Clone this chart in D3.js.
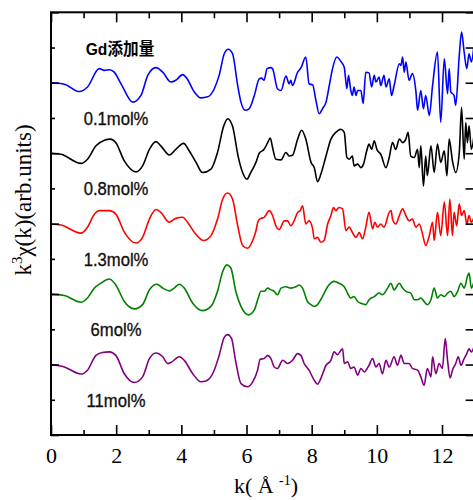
<!DOCTYPE html>
<html>
<head>
<meta charset="utf-8">
<script src="https://cdn.jsdelivr.net/npm/d3@7"></script>
<style>
  body { margin: 0; background: #fff; }
  svg { display: block; }
</style>
</head>
<body>
<div id="chart"></div>
<script>
// EXAFS k^3 chi(k) spectra, stacked by Gd content

// x axis ticks
const kMajor = [0, 2, 4, 6, 8, 10, 12];
const kMinor = [1, 3, 5, 7, 9, 11];
// y ticks (no labels) in stacking units
const yTicks = [0, 1, 2, 3, 4, 5, 6, 7, 8, 9, 10, 11, 12];

const seriesNames = ["0.1mol%", "0.8mol%", "1.3mol%", "6mol%", "11mol%"];
const seriesTitle = "Gd添加量";

// [k, chi] pairs
const gd01 = [[0,0],[0.41,-0.04],[0.87,-0.25],[1.12,-0.12],[1.48,0.40],[1.64,0.35],[1.79,0.37],[1.94,0.30],[2.15,-0.03],[2.51,-0.55],[2.76,-0.36],[2.97,0.21],[3.22,0.43],[3.43,0.30],[3.68,0.02],[3.83,0.07],[4.04,0.23],[4.14,0.16],[4.40,-0.26],[4.60,-0.43],[4.81,-0.40],[5.01,-0.17],[5.16,0.21],[5.32,0.83],[5.44,0.95],[5.57,0.83],[5.73,-0.08],[5.83,-0.55],[5.96,-0.78],[6.08,-0.74],[6.24,-0.36],[6.39,0.11],[6.46,0.13],[6.54,0.07],[6.63,0.40],[6.75,0.43],[6.80,0.40],[6.95,-0.17],[7.06,-0.22],[7.21,0.19],[7.31,-0.03],[7.36,0.07],[7.41,-0.08],[7.57,0.30],[7.67,0.42],[7.82,0.73],[7.92,-0.03],[8.03,-0.06],[8.13,-0.50],[8.23,-0.88],[8.33,-0.74],[8.44,-0.55],[8.54,-0.08],[8.64,0.40],[8.77,0.73],[8.90,0.60],[9.00,0.44],[9.08,-0.17],[9.13,0.21],[9.20,-0.22],[9.25,-0.36],[9.30,-0.12],[9.36,-0.36],[9.41,-0.22],[9.51,-0.22],[9.58,-0.59],[9.66,0.30],[9.76,0.28],[9.84,-0.12],[9.92,0.21],[9.97,0.02],[10.07,0.16],[10.12,-0.08],[10.22,0.21],[10.28,-0.12],[10.38,0.11],[10.45,-0.36],[10.53,-0.08],[10.69,0.54],[10.74,0.49],[10.79,0.73],[10.84,0.30],[10.89,0.59],[10.99,0.07],[11.09,0.26],[11.20,-0.26],[11.25,-0.78],[11.35,-0.22],[11.43,-0.74],[11.50,-0.36],[11.61,-0.93],[11.71,-0.08],[11.86,0.87],[11.96,-1.12],[12.07,0.68],[12.17,-0.31],[12.22,0.40],[12.27,-0.26],[12.37,-0.36],[12.42,-0.64],[12.53,0.78],[12.60,1.44],[12.68,0.87],[12.76,0.40],[12.83,0.82],[12.90,0.59],[12.98,1.06]];

const gd08 = [[0,0],[0.31,-0.03],[0.92,-0.29],[1.12,-0.17],[1.38,0.21],[1.64,0.37],[1.82,0.40],[1.99,0.30],[2.25,-0.22],[2.61,-0.53],[2.81,-0.36],[3.02,0.11],[3.22,0.33],[3.37,0.21],[3.63,-0.05],[3.83,0.11],[4.07,0.28],[4.24,0.07],[4.45,-0.26],[4.65,-0.55],[4.91,-0.45],[5.11,0.02],[5.30,0.77],[5.42,0.98],[5.57,0.77],[5.75,-0.12],[5.88,-0.55],[6.01,-0.74],[6.13,-0.55],[6.29,-0.26],[6.39,0],[6.54,0.11],[6.65,0.30],[6.73,0.43],[6.80,0.16],[6.90,-0.17],[7.06,-0.19],[7.21,0.02],[7.31,-0.08],[7.41,-0.06],[7.57,0.40],[7.69,0.65],[7.82,0.40],[7.98,-0.26],[8.08,-0.41],[8.18,-0.81],[8.28,-0.60],[8.44,-0.08],[8.59,0.40],[8.74,0.59],[8.90,0.68],[9.00,0.59],[9.08,-0.12],[9.15,-0.17],[9.25,-0.08],[9.30,-0.36],[9.41,-0.31],[9.51,-0.41],[9.59,-0.31],[9.69,0.07],[9.76,0.26],[9.84,0.11],[9.92,0.35],[10.00,0.11],[10.12,-0.03],[10.28,-0.41],[10.38,-0.12],[10.48,0.30],[10.58,0.11],[10.69,0.40],[10.79,0.30],[10.89,0.40],[10.96,0.59],[11.04,-0.08],[11.15,-0.12],[11.25,0.11],[11.30,-0.41],[11.35,0.21],[11.43,-0.93],[11.50,-0.08],[11.55,-0.64],[11.66,0.21],[11.76,-0.55],[11.86,0.26],[11.96,-0.26],[12.07,0.07],[12.15,-0.64],[12.22,0.40],[12.32,-0.22],[12.42,-0.55],[12.53,0.02],[12.60,1.30],[12.68,-0.17],[12.73,0.87],[12.78,0.30],[12.83,0.78],[12.90,0.11],[12.98,0.49]];

const gd13 = [[0,-0.01],[0.31,-0.04],[0.92,-0.27],[1.12,-0.10],[1.33,0.27],[1.48,0.37],[1.79,0.37],[1.99,0.27],[2.25,-0.24],[2.61,-0.55],[2.81,-0.39],[3.02,0.13],[3.22,0.40],[3.37,0.32],[3.63,0.04],[3.83,0.15],[4.04,0.18],[4.19,0.04],[4.40,-0.25],[4.68,-0.48],[4.91,-0.34],[5.11,0.13],[5.27,0.70],[5.42,0.87],[5.57,0.70],[5.73,-0.06],[5.88,-0.62],[6.03,-0.70],[6.19,-0.48],[6.29,-0.20],[6.36,0.08],[6.44,0.15],[6.54,0.18],[6.70,0.37],[6.80,0.23],[6.90,-0.06],[7.00,-0.17],[7.16,0.08],[7.26,0.08],[7.36,-0.06],[7.46,0.08],[7.57,0.32],[7.65,0.37],[7.72,0.51],[7.82,-0.01],[7.92,0.08],[8.03,-0.15],[8.08,-0.43],[8.18,-0.39],[8.28,-0.53],[8.38,-0.48],[8.49,-0.01],[8.59,0.23],[8.67,0.46],[8.74,0.37],[8.84,0.46],[8.95,0.42],[9.05,-0.20],[9.15,-0.10],[9.25,-0.25],[9.36,-0.39],[9.46,-0.25],[9.56,-0.43],[9.66,-0.10],[9.76,0.32],[9.87,-0.15],[9.94,0.04],[10.02,-0.10],[10.12,-0.01],[10.22,-0.10],[10.38,0.32],[10.44,0.37],[10.48,0.13],[10.58,-0.01],[10.69,0.23],[10.79,0.42],[10.89,0.23],[10.99,0.08],[11.09,0.13],[11.20,-0.10],[11.30,-0.01],[11.40,-0.29],[11.50,-0.62],[11.61,-0.34],[11.71,0.04],[11.76,-0.48],[11.86,0.32],[11.96,-0.34],[12.07,0.61],[12.17,-0.34],[12.24,0.70],[12.32,-0.34],[12.37,0.32],[12.45,-0.06],[12.53,0.56],[12.60,0.23],[12.68,0.37],[12.76,-0.01],[12.83,0.23],[12.90,0.04],[12.98,0.18]];

const gd6 = [[0,0],[0.41,-0.04],[0.92,-0.23],[1.12,-0.11],[1.33,0.17],[1.53,0.31],[1.79,0.43],[1.99,0.26],[2.25,-0.21],[2.56,-0.42],[2.81,-0.30],[3.02,0.12],[3.25,0.28],[3.43,0.17],[3.63,0.09],[3.78,0.17],[3.94,0.28],[4.09,0.17],[4.35,-0.26],[4.65,-0.47],[4.91,-0.35],[5.11,0.08],[5.27,0.64],[5.40,0.83],[5.52,0.74],[5.67,0.08],[5.83,-0.35],[6.06,-0.59],[6.24,-0.45],[6.36,-0.11],[6.44,0.08],[6.54,0.08],[6.65,0.17],[6.75,0.12],[6.85,0.08],[6.95,-0.02],[7.06,0.17],[7.21,0.21],[7.36,0.17],[7.52,0.21],[7.62,0.26],[7.72,0.17],[7.87,-0.21],[7.98,-0.30],[8.08,-0.35],[8.18,-0.30],[8.33,-0.07],[8.49,0.21],[8.69,0.36],[8.84,0.31],[9.00,0.21],[9.10,0.03],[9.20,-0.11],[9.30,-0.07],[9.41,-0.21],[9.51,-0.26],[9.66,-0.30],[9.76,-0.16],[9.92,-0.07],[10.07,0.03],[10.17,-0.02],[10.33,0.17],[10.43,0.31],[10.53,0.12],[10.69,0.31],[10.79,0.17],[10.89,0.08],[11.04,0.03],[11.15,-0.16],[11.25,-0.16],[11.35,-0.11],[11.45,-0.21],[11.55,-0.30],[11.66,-0.16],[11.76,0.17],[11.86,-0.11],[11.96,-0.02],[12.07,-0.07],[12.17,0.03],[12.27,0.08],[12.37,-0.07],[12.48,0.08],[12.58,0.31],[12.68,0.17],[12.78,0.50],[12.83,0.60],[12.90,0.17],[12.98,0.36]];

const gd11 = [[0,0],[0.41,-0.07],[0.92,-0.27],[1.12,-0.16],[1.38,0.26],[1.58,0.34],[1.79,0.36],[1.99,0.26],[2.25,-0.26],[2.56,-0.51],[2.81,-0.35],[3.02,0.17],[3.22,0.33],[3.43,0.22],[3.58,0.03],[3.68,0.06],[3.94,0.22],[4.09,0.12],[4.35,-0.26],[4.60,-0.49],[4.75,-0.47],[5.01,-0.16],[5.16,0.26],[5.32,0.78],[5.42,0.85],[5.54,0.74],[5.67,0.08],[5.83,-0.54],[6.03,-0.63],[6.19,-0.49],[6.34,-0.16],[6.42,0.15],[6.54,0.17],[6.65,0.26],[6.75,0.17],[6.85,-0.07],[6.95,-0.11],[7.11,0.12],[7.26,0.03],[7.41,0.12],[7.57,0.31],[7.67,0.26],[7.77,0.03],[7.92,-0.16],[8.08,-0.45],[8.18,-0.56],[8.28,-0.40],[8.44,-0.02],[8.59,0.12],[8.69,0.36],[8.79,0.28],[8.95,0.45],[9.00,0.03],[9.10,0.08],[9.20,-0.11],[9.30,-0.07],[9.41,-0.30],[9.51,-0.11],[9.61,-0.21],[9.76,-0.02],[9.87,0.17],[9.97,-0.07],[10.07,0.03],[10.17,-0.26],[10.28,0.12],[10.38,-0.07],[10.53,0.22],[10.63,-0.02],[10.74,0.26],[10.84,0.03],[10.99,0.03],[11.09,-0.11],[11.25,-0.16],[11.35,-0.35],[11.45,-0.59],[11.55,-0.11],[11.66,-0.35],[11.71,0.22],[11.81,-0.26],[11.91,0.03],[12.01,-0.11],[12.10,0.74],[12.17,0.12],[12.25,-0.38],[12.32,-0.16],[12.42,0.03],[12.50,0.22],[12.58,-0.02],[12.68,0.17],[12.76,0.31],[12.83,0.45],[12.90,0.36],[12.98,0.50]];

const seriesData = [gd01, gd08, gd13, gd6, gd11];
const seriesColors = ["#0000ff", "#000000", "#ff0000", "#008000", "#800080"];

const width = 473;
const height = 500;
const mLeft = 51, mRight = 474.6, mTop = 12.3, mBottom = 435;

const svg = d3.select("#chart")
  .append("svg")
  .attr("width", width)
  .attr("height", height);

const x = d3.scaleLinear().domain([0, 13]).range([mLeft, mRight]);
const y = d3.scaleLinear().domain([0, 12]).range([mBottom, mTop]);

// curves, each shifted up by 2 units
const line = d3.line()
  .x(d => x(d[0]))
  .y(d => y(d[1]))
  .curve(d3.curveMonotoneX);

seriesData.forEach(function(data, i) {
  const base = 10 - 2 * i;
  svg.append("path")
    .datum(data.map(d => [d[0], d[1] + base]))
    .attr("fill", "none")
    .attr("stroke", seriesColors[i])
    .attr("stroke-width", 1.6)
    .attr("stroke-linejoin", "round")
    .attr("d", line);
});

// axes (ticks point inward)
const serif = "'Liberation Serif','Times New Roman',serif";
function styleAxis(g) {
  g.select(".domain").remove();
  g.selectAll(".tick line").attr("stroke", "#000").attr("stroke-width", 1.6);
}

svg.append("g")
  .attr("transform", `translate(0,${mBottom})`)
  .call(d3.axisBottom(x).tickValues(kMajor).tickSize(-10).tickPadding(12).tickFormat(d3.format("d")))
  .call(styleAxis)
  .selectAll("text")
  .attr("font-family", serif)
  .attr("font-size", 22)
  .attr("fill", "#000");

svg.append("g")
  .attr("transform", `translate(0,${mBottom})`)
  .call(d3.axisBottom(x).tickValues(kMinor).tickSize(-5).tickFormat(""))
  .call(styleAxis);

svg.append("g")
  .attr("transform", `translate(0,${mTop})`)
  .call(d3.axisTop(x).tickValues(kMajor).tickSize(-10).tickFormat(""))
  .call(styleAxis);

svg.append("g")
  .attr("transform", `translate(0,${mTop})`)
  .call(d3.axisTop(x).tickValues(kMinor).tickSize(-6).tickFormat(""))
  .call(styleAxis);

svg.append("g")
  .attr("transform", `translate(${mLeft},0)`)
  .call(d3.axisLeft(y).tickValues(yTicks.filter(d => d % 2 === 0)).tickSize(-8).tickFormat(""))
  .call(styleAxis);

svg.append("g")
  .attr("transform", `translate(${mLeft},0)`)
  .call(d3.axisLeft(y).tickValues(yTicks.filter(d => d % 2 === 1)).tickSize(-4).tickFormat(""))
  .call(styleAxis);

svg.append("g")
  .attr("transform", `translate(${mRight},0)`)
  .call(d3.axisRight(y).tickValues(yTicks).tickSize(-9).tickFormat(""))
  .call(styleAxis);

// frame
svg.append("rect")
  .attr("x", mLeft)
  .attr("y", mTop)
  .attr("width", mRight - mLeft)
  .attr("height", mBottom - mTop)
  .attr("fill", "none")
  .attr("stroke", "#000")
  .attr("stroke-width", 2);

// series labels (narrow, slightly heavy sans)
const sans = "'Liberation Sans','Noto Sans CJK JP',sans-serif";
svg.append("text")
  .attr("transform", `translate(120,${y(10) - 28}) scale(0.92,1)`)
  .attr("text-anchor", "middle")
  .attr("font-family", sans)
  .attr("font-size", 17)
  .attr("font-weight", "bold")
  .text(seriesTitle);

seriesNames.forEach(function(name, i) {
  svg.append("text")
    .attr("transform", `translate(116,${y(10 - 2 * i) + 42}) scale(0.9,1)`)
    .attr("text-anchor", "middle")
    .attr("font-family", sans)
    .attr("font-size", 18.5)
    .attr("fill", "#111")
    .attr("stroke", "#111")
    .attr("stroke-width", 0.35)
    .text(name);
});

// axis titles
const xt = svg.append("text")
  .attr("x", 266)
  .attr("y", 493)
  .attr("text-anchor", "middle")
  .attr("font-family", serif)
  .attr("font-size", 22)
  .attr("xml:space", "preserve");
xt.append("tspan").text("k( Å ");
xt.append("tspan").attr("font-size", 14).attr("dy", -8).text("-1");
xt.append("tspan").attr("dy", 8).text(")");

const yt = svg.append("text")
  .attr("transform", "translate(31,200) rotate(-90)")
  .attr("text-anchor", "middle")
  .attr("font-family", serif)
  .attr("font-size", 23);
yt.append("tspan").text("k");
yt.append("tspan").attr("font-size", 15).attr("dy", -9).text("3");
yt.append("tspan").attr("dy", 9).text("χ(k)(arb.units)");
</script>
</body>
</html>
